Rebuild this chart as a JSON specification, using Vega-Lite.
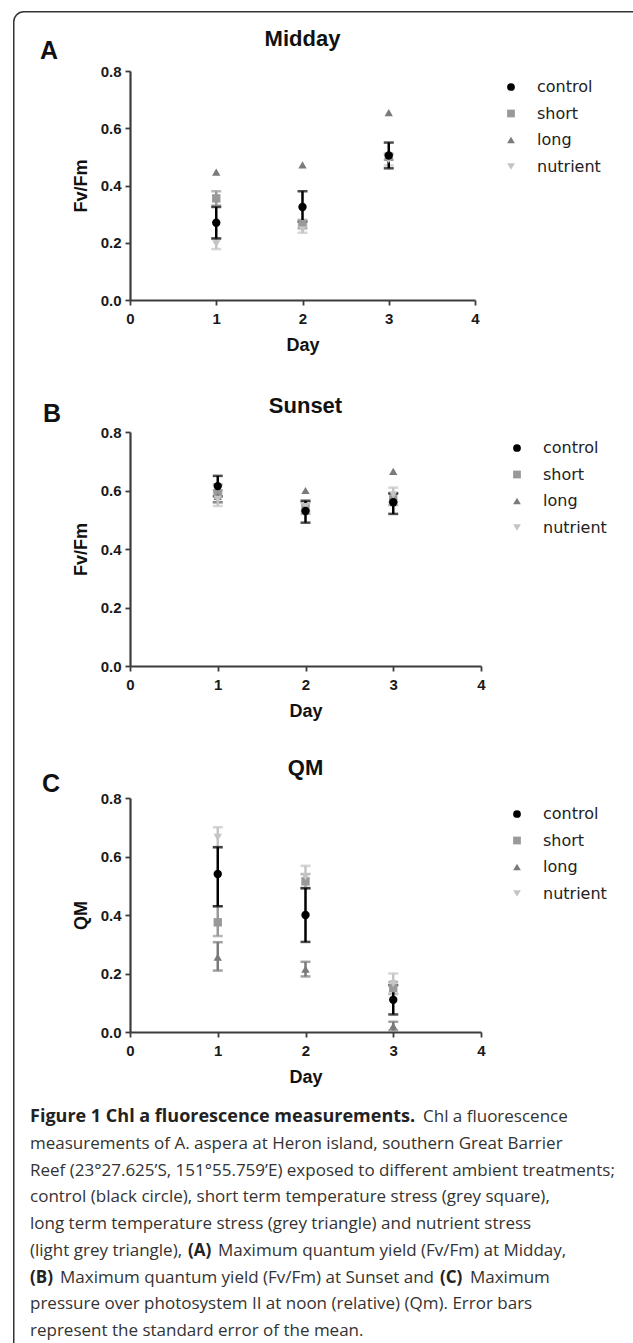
{
  "$schema": "https://vega.github.io/schema/vega-lite/v6.json",
  "padding": {"left": 13, "top": 10, "right": -18, "bottom": -18},
  "background": "white",
  "bounds": "flush",
  "spacing": 132,
  "resolve": {"scale": {"color": "independent", "shape": "independent"}},
  "config": {
    "view": {"stroke": null},
    "font": "Liberation Sans",
    "axis": {"grid": false, "domainColor": "#3c3c3c", "domainWidth": 2.2, "tickColor": "#3c3c3c", "tickWidth": 1.8, "tickSize": 5, "labelFont": "Liberation Sans", "labelFontWeight": "bold", "labelFontSize": 15, "labelColor": "#1a1a1a", "labelPadding": 4, "titleFont": "Liberation Sans", "titleFontWeight": "bold", "titleFontSize": 18, "titleColor": "#111111", "labelFlush": false, "labelOverlap": false},
    "axisX": {"labelPadding": 6, "titlePadding": 10},
    "axisY": {"titlePadding": 10},
    "legend": {"orient": "right", "offset": 20, "padding": 8, "rowPadding": 10.5, "labelOffset": 18, "symbolSize": 60, "labelFont": "DejaVu Sans", "labelFontSize": 16, "labelColor": "#222222"}
  },
  "datasets": {
    "midday": [
      {"day": 1, "trt": "short", "mean": 0.355, "lo": 0.33, "hi": 0.38},
      {"day": 1, "trt": "long", "mean": 0.447, "lo": null, "hi": null},
      {"day": 1, "trt": "nutrient", "mean": 0.196, "lo": 0.178, "hi": 0.215},
      {"day": 1, "trt": "control", "mean": 0.27, "lo": 0.215, "hi": 0.325},
      {"day": 2, "trt": "short", "mean": 0.265, "lo": 0.25, "hi": 0.28},
      {"day": 2, "trt": "long", "mean": 0.472, "lo": null, "hi": null},
      {"day": 2, "trt": "nutrient", "mean": 0.245, "lo": 0.235, "hi": 0.26},
      {"day": 2, "trt": "control", "mean": 0.325, "lo": 0.273, "hi": 0.38},
      {"day": 3, "trt": "short", "mean": 0.5, "lo": 0.49, "hi": 0.51},
      {"day": 3, "trt": "long", "mean": 0.655, "lo": null, "hi": null},
      {"day": 3, "trt": "nutrient", "mean": 0.49, "lo": 0.47, "hi": 0.51},
      {"day": 3, "trt": "control", "mean": 0.505, "lo": 0.46, "hi": 0.55}
    ],
    "sunset": [
      {"day": 1, "trt": "short", "mean": 0.59, "lo": 0.56, "hi": 0.62},
      {"day": 1, "trt": "long", "mean": 0.58, "lo": 0.56, "hi": 0.6},
      {"day": 1, "trt": "nutrient", "mean": 0.57, "lo": 0.547, "hi": 0.59},
      {"day": 1, "trt": "control", "mean": 0.615, "lo": 0.58, "hi": 0.65},
      {"day": 2, "trt": "short", "mean": 0.54, "lo": 0.52, "hi": 0.56},
      {"day": 2, "trt": "long", "mean": 0.6, "lo": null, "hi": null},
      {"day": 2, "trt": "nutrient", "mean": 0.545, "lo": 0.53, "hi": 0.56},
      {"day": 2, "trt": "control", "mean": 0.53, "lo": 0.49, "hi": 0.565},
      {"day": 3, "trt": "short", "mean": 0.57, "lo": 0.55, "hi": 0.59},
      {"day": 3, "trt": "long", "mean": 0.665, "lo": null, "hi": null},
      {"day": 3, "trt": "nutrient", "mean": 0.585, "lo": 0.56, "hi": 0.61},
      {"day": 3, "trt": "control", "mean": 0.56, "lo": 0.52, "hi": 0.59}
    ],
    "qm": [
      {"day": 1, "trt": "short", "mean": 0.375, "lo": 0.328, "hi": 0.43},
      {"day": 1, "trt": "long", "mean": 0.256, "lo": 0.21, "hi": 0.307},
      {"day": 1, "trt": "nutrient", "mean": 0.665, "lo": 0.63, "hi": 0.7},
      {"day": 1, "trt": "control", "mean": 0.54, "lo": 0.43, "hi": 0.632},
      {"day": 2, "trt": "short", "mean": 0.515, "lo": 0.49, "hi": 0.54},
      {"day": 2, "trt": "long", "mean": 0.215, "lo": 0.19, "hi": 0.24},
      {"day": 2, "trt": "nutrient", "mean": 0.53, "lo": 0.49, "hi": 0.568},
      {"day": 2, "trt": "control", "mean": 0.4, "lo": 0.308, "hi": 0.492},
      {"day": 3, "trt": "short", "mean": 0.15, "lo": 0.13, "hi": 0.17},
      {"day": 3, "trt": "long", "mean": 0.02, "lo": 0.005, "hi": 0.035},
      {"day": 3, "trt": "nutrient", "mean": 0.165, "lo": 0.13, "hi": 0.2},
      {"day": 3, "trt": "control", "mean": 0.11, "lo": 0.06, "hi": 0.16}
    ],
    "caption": [
      {"line": 1, "seg": "b1", "t": "Figure 1 Chl a fluorescence measurements."},
      {"line": 1, "seg": "r1", "t": "Chl a fluorescence"},
      {"line": 2, "seg": "r0", "t": "measurements of A. aspera at Heron island, southern Great Barrier"},
      {"line": 3, "seg": "r0", "t": "Reef (23°27.625’S, 151°55.759’E) exposed to different ambient treatments;"},
      {"line": 4, "seg": "r0", "t": "control (black circle), short term temperature stress (grey square),"},
      {"line": 5, "seg": "r0", "t": "long term temperature stress (grey triangle) and nutrient stress"},
      {"line": 6, "seg": "r0", "t": "(light grey triangle),"},
      {"line": 6, "seg": "bA", "t": "(A)"},
      {"line": 6, "seg": "rA", "t": "Maximum quantum yield (Fv/Fm) at Midday,"},
      {"line": 7, "seg": "b0", "t": "(B)"},
      {"line": 7, "seg": "rB", "t": "Maximum quantum yield (Fv/Fm) at Sunset and"},
      {"line": 7, "seg": "bC", "t": "(C)"},
      {"line": 7, "seg": "rC", "t": "Maximum"},
      {"line": 8, "seg": "r0", "t": "pressure over photosystem II at noon (relative) (Qm). Error bars"},
      {"line": 9, "seg": "r0", "t": "represent the standard error of the mean."}
    ]
  },
  "vconcat": [
    {
      "width": 345, "height": 229,
      "data": {"name": "midday"},
      "layer": [
        {"data": {"values": [{}]},
         "mark": {"type": "rect", "fill": "transparent", "stroke": "#333333", "strokeWidth": 1.5, "cornerRadius": 10},
         "encoding": {"x": {"datum": -1.3478, "type": "quantitative"}, "x2": {"datum": 6.029}, "y": {"datum": 1.007, "type": "quantitative"}, "y2": {"datum": -3.7066}}},
        {"transform": [{"filter": "datum.trt === 'short'"}], "layer": [
          {"mark": {"type": "rule", "color": "#999999", "strokeWidth": 2.5}, "encoding": {"x": {"field": "day", "type": "quantitative", "scale": {"domain": [0, 4], "nice": false, "zero": false}, "axis": {"values": [0, 1, 2, 3, 4], "format": "d", "title": "Day"}}, "y": {"field": "lo", "type": "quantitative", "scale": {"domain": [0, 0.8], "nice": false}, "axis": {"values": [0, 0.2, 0.4, 0.6, 0.8], "format": ".1f", "title": "Fv/Fm"}}, "y2": {"field": "hi"}}},
          {"mark": {"type": "tick", "orient": "horizontal", "color": "#999999", "thickness": 2.5, "size": 10}, "encoding": {"x": {"field": "day", "type": "quantitative"}, "y": {"field": "lo", "type": "quantitative"}}},
          {"mark": {"type": "tick", "orient": "horizontal", "color": "#999999", "thickness": 2.5, "size": 10}, "encoding": {"x": {"field": "day", "type": "quantitative"}, "y": {"field": "hi", "type": "quantitative"}}}
        ]},
        {"transform": [{"filter": "datum.trt === 'long'"}], "layer": [
          {"mark": {"type": "rule", "color": "#7a7a7a", "strokeWidth": 2.5}, "encoding": {"x": {"field": "day", "type": "quantitative"}, "y": {"field": "lo", "type": "quantitative"}, "y2": {"field": "hi"}}},
          {"mark": {"type": "tick", "orient": "horizontal", "color": "#7a7a7a", "thickness": 2.5, "size": 10}, "encoding": {"x": {"field": "day", "type": "quantitative"}, "y": {"field": "lo", "type": "quantitative"}}},
          {"mark": {"type": "tick", "orient": "horizontal", "color": "#7a7a7a", "thickness": 2.5, "size": 10}, "encoding": {"x": {"field": "day", "type": "quantitative"}, "y": {"field": "hi", "type": "quantitative"}}}
        ]},
        {"transform": [{"filter": "datum.trt === 'nutrient'"}], "layer": [
          {"mark": {"type": "rule", "color": "#c4c4c4", "strokeWidth": 2.5}, "encoding": {"x": {"field": "day", "type": "quantitative"}, "y": {"field": "lo", "type": "quantitative"}, "y2": {"field": "hi"}}},
          {"mark": {"type": "tick", "orient": "horizontal", "color": "#c4c4c4", "thickness": 2.5, "size": 10}, "encoding": {"x": {"field": "day", "type": "quantitative"}, "y": {"field": "lo", "type": "quantitative"}}},
          {"mark": {"type": "tick", "orient": "horizontal", "color": "#c4c4c4", "thickness": 2.5, "size": 10}, "encoding": {"x": {"field": "day", "type": "quantitative"}, "y": {"field": "hi", "type": "quantitative"}}}
        ]},
        {"transform": [{"filter": "datum.trt === 'control'"}], "layer": [
          {"mark": {"type": "rule", "color": "#000000", "strokeWidth": 2.5}, "encoding": {"x": {"field": "day", "type": "quantitative"}, "y": {"field": "lo", "type": "quantitative"}, "y2": {"field": "hi"}}},
          {"mark": {"type": "tick", "orient": "horizontal", "color": "#000000", "thickness": 2.5, "size": 10}, "encoding": {"x": {"field": "day", "type": "quantitative"}, "y": {"field": "lo", "type": "quantitative"}}},
          {"mark": {"type": "tick", "orient": "horizontal", "color": "#000000", "thickness": 2.5, "size": 10}, "encoding": {"x": {"field": "day", "type": "quantitative"}, "y": {"field": "hi", "type": "quantitative"}}}
        ]},
        {"mark": {"type": "point", "filled": true, "size": 70, "opacity": 1},
         "encoding": {"x": {"field": "day", "type": "quantitative"}, "y": {"field": "mean", "type": "quantitative"},
           "color": {"field": "trt", "type": "nominal", "scale": {"domain": ["control", "short", "long", "nutrient"], "range": ["#000000", "#999999", "#7a7a7a", "#c4c4c4"]}, "legend": {"title": null}},
           "shape": {"field": "trt", "type": "nominal", "scale": {"domain": ["control", "short", "long", "nutrient"], "range": ["circle", "square", "triangle-up", "triangle-down"]}, "legend": {"title": null}}}},
        {"data": {"values": [{}]},
         "mark": {"type": "text", "text": "Midday", "font": "Liberation Sans", "fontWeight": "bold", "fontSize": 22, "baseline": "middle", "align": "center", "color": "#111111"},
         "encoding": {"x": {"datum": 2, "type": "quantitative"}, "y": {"datum": 0.912, "type": "quantitative"}}},
        {"data": {"values": [{}]},
         "mark": {"type": "text", "text": "A", "font": "Liberation Sans", "fontWeight": "bold", "fontSize": 25, "baseline": "middle", "align": "center", "color": "#111111"},
         "encoding": {"x": {"datum": -0.939, "type": "quantitative"}, "y": {"datum": 0.87, "type": "quantitative"}}}
      ]
    },
    {
      "width": 351, "height": 234,
      "data": {"name": "sunset"},
      "layer": [
        {"transform": [{"filter": "datum.trt === 'short'"}], "layer": [
          {"mark": {"type": "rule", "color": "#999999", "strokeWidth": 2.5}, "encoding": {"x": {"field": "day", "type": "quantitative", "scale": {"domain": [0, 4], "nice": false, "zero": false}, "axis": {"values": [0, 1, 2, 3, 4], "format": "d", "title": "Day"}}, "y": {"field": "lo", "type": "quantitative", "scale": {"domain": [0, 0.8], "nice": false}, "axis": {"values": [0, 0.2, 0.4, 0.6, 0.8], "format": ".1f", "title": "Fv/Fm"}}, "y2": {"field": "hi"}}},
          {"mark": {"type": "tick", "orient": "horizontal", "color": "#999999", "thickness": 2.5, "size": 10}, "encoding": {"x": {"field": "day", "type": "quantitative"}, "y": {"field": "lo", "type": "quantitative"}}},
          {"mark": {"type": "tick", "orient": "horizontal", "color": "#999999", "thickness": 2.5, "size": 10}, "encoding": {"x": {"field": "day", "type": "quantitative"}, "y": {"field": "hi", "type": "quantitative"}}}
        ]},
        {"transform": [{"filter": "datum.trt === 'long'"}], "layer": [
          {"mark": {"type": "rule", "color": "#7a7a7a", "strokeWidth": 2.5}, "encoding": {"x": {"field": "day", "type": "quantitative"}, "y": {"field": "lo", "type": "quantitative"}, "y2": {"field": "hi"}}},
          {"mark": {"type": "tick", "orient": "horizontal", "color": "#7a7a7a", "thickness": 2.5, "size": 10}, "encoding": {"x": {"field": "day", "type": "quantitative"}, "y": {"field": "lo", "type": "quantitative"}}},
          {"mark": {"type": "tick", "orient": "horizontal", "color": "#7a7a7a", "thickness": 2.5, "size": 10}, "encoding": {"x": {"field": "day", "type": "quantitative"}, "y": {"field": "hi", "type": "quantitative"}}}
        ]},
        {"transform": [{"filter": "datum.trt === 'nutrient'"}], "layer": [
          {"mark": {"type": "rule", "color": "#c4c4c4", "strokeWidth": 2.5}, "encoding": {"x": {"field": "day", "type": "quantitative"}, "y": {"field": "lo", "type": "quantitative"}, "y2": {"field": "hi"}}},
          {"mark": {"type": "tick", "orient": "horizontal", "color": "#c4c4c4", "thickness": 2.5, "size": 10}, "encoding": {"x": {"field": "day", "type": "quantitative"}, "y": {"field": "lo", "type": "quantitative"}}},
          {"mark": {"type": "tick", "orient": "horizontal", "color": "#c4c4c4", "thickness": 2.5, "size": 10}, "encoding": {"x": {"field": "day", "type": "quantitative"}, "y": {"field": "hi", "type": "quantitative"}}}
        ]},
        {"transform": [{"filter": "datum.trt === 'control'"}], "layer": [
          {"mark": {"type": "rule", "color": "#000000", "strokeWidth": 2.5}, "encoding": {"x": {"field": "day", "type": "quantitative"}, "y": {"field": "lo", "type": "quantitative"}, "y2": {"field": "hi"}}},
          {"mark": {"type": "tick", "orient": "horizontal", "color": "#000000", "thickness": 2.5, "size": 10}, "encoding": {"x": {"field": "day", "type": "quantitative"}, "y": {"field": "lo", "type": "quantitative"}}},
          {"mark": {"type": "tick", "orient": "horizontal", "color": "#000000", "thickness": 2.5, "size": 10}, "encoding": {"x": {"field": "day", "type": "quantitative"}, "y": {"field": "hi", "type": "quantitative"}}}
        ]},
        {"mark": {"type": "point", "filled": true, "size": 70, "opacity": 1},
         "encoding": {"x": {"field": "day", "type": "quantitative"}, "y": {"field": "mean", "type": "quantitative"},
           "color": {"field": "trt", "type": "nominal", "scale": {"domain": ["control", "short", "long", "nutrient"], "range": ["#000000", "#999999", "#7a7a7a", "#c4c4c4"]}, "legend": {"title": null}},
           "shape": {"field": "trt", "type": "nominal", "scale": {"domain": ["control", "short", "long", "nutrient"], "range": ["circle", "square", "triangle-up", "triangle-down"]}, "legend": {"title": null}}}},
        {"data": {"values": [{}]},
         "mark": {"type": "text", "text": "Sunset", "font": "Liberation Sans", "fontWeight": "bold", "fontSize": 22, "baseline": "middle", "align": "center", "color": "#111111"},
         "encoding": {"x": {"datum": 2, "type": "quantitative"}, "y": {"datum": 0.889, "type": "quantitative"}}},
        {"data": {"values": [{}]},
         "mark": {"type": "text", "text": "B", "font": "Liberation Sans", "fontWeight": "bold", "fontSize": 25, "baseline": "middle", "align": "center", "color": "#111111"},
         "encoding": {"x": {"datum": -0.889, "type": "quantitative"}, "y": {"datum": 0.8615, "type": "quantitative"}}}
      ]
    },
    {
      "width": 351, "height": 234,
      "data": {"name": "qm"},
      "layer": [
        {"transform": [{"filter": "datum.trt === 'short'"}], "layer": [
          {"mark": {"type": "rule", "color": "#999999", "strokeWidth": 2.5}, "encoding": {"x": {"field": "day", "type": "quantitative", "scale": {"domain": [0, 4], "nice": false, "zero": false}, "axis": {"values": [0, 1, 2, 3, 4], "format": "d", "title": "Day"}}, "y": {"field": "lo", "type": "quantitative", "scale": {"domain": [0, 0.8], "nice": false}, "axis": {"values": [0, 0.2, 0.4, 0.6, 0.8], "format": ".1f", "title": "QM"}}, "y2": {"field": "hi"}}},
          {"mark": {"type": "tick", "orient": "horizontal", "color": "#999999", "thickness": 2.5, "size": 10}, "encoding": {"x": {"field": "day", "type": "quantitative"}, "y": {"field": "lo", "type": "quantitative"}}},
          {"mark": {"type": "tick", "orient": "horizontal", "color": "#999999", "thickness": 2.5, "size": 10}, "encoding": {"x": {"field": "day", "type": "quantitative"}, "y": {"field": "hi", "type": "quantitative"}}}
        ]},
        {"transform": [{"filter": "datum.trt === 'long'"}], "layer": [
          {"mark": {"type": "rule", "color": "#7a7a7a", "strokeWidth": 2.5}, "encoding": {"x": {"field": "day", "type": "quantitative"}, "y": {"field": "lo", "type": "quantitative"}, "y2": {"field": "hi"}}},
          {"mark": {"type": "tick", "orient": "horizontal", "color": "#7a7a7a", "thickness": 2.5, "size": 10}, "encoding": {"x": {"field": "day", "type": "quantitative"}, "y": {"field": "lo", "type": "quantitative"}}},
          {"mark": {"type": "tick", "orient": "horizontal", "color": "#7a7a7a", "thickness": 2.5, "size": 10}, "encoding": {"x": {"field": "day", "type": "quantitative"}, "y": {"field": "hi", "type": "quantitative"}}}
        ]},
        {"transform": [{"filter": "datum.trt === 'nutrient'"}], "layer": [
          {"mark": {"type": "rule", "color": "#c4c4c4", "strokeWidth": 2.5}, "encoding": {"x": {"field": "day", "type": "quantitative"}, "y": {"field": "lo", "type": "quantitative"}, "y2": {"field": "hi"}}},
          {"mark": {"type": "tick", "orient": "horizontal", "color": "#c4c4c4", "thickness": 2.5, "size": 10}, "encoding": {"x": {"field": "day", "type": "quantitative"}, "y": {"field": "lo", "type": "quantitative"}}},
          {"mark": {"type": "tick", "orient": "horizontal", "color": "#c4c4c4", "thickness": 2.5, "size": 10}, "encoding": {"x": {"field": "day", "type": "quantitative"}, "y": {"field": "hi", "type": "quantitative"}}}
        ]},
        {"transform": [{"filter": "datum.trt === 'control'"}], "layer": [
          {"mark": {"type": "rule", "color": "#000000", "strokeWidth": 2.5}, "encoding": {"x": {"field": "day", "type": "quantitative"}, "y": {"field": "lo", "type": "quantitative"}, "y2": {"field": "hi"}}},
          {"mark": {"type": "tick", "orient": "horizontal", "color": "#000000", "thickness": 2.5, "size": 10}, "encoding": {"x": {"field": "day", "type": "quantitative"}, "y": {"field": "lo", "type": "quantitative"}}},
          {"mark": {"type": "tick", "orient": "horizontal", "color": "#000000", "thickness": 2.5, "size": 10}, "encoding": {"x": {"field": "day", "type": "quantitative"}, "y": {"field": "hi", "type": "quantitative"}}}
        ]},
        {"mark": {"type": "point", "filled": true, "size": 70, "opacity": 1},
         "encoding": {"x": {"field": "day", "type": "quantitative"}, "y": {"field": "mean", "type": "quantitative"},
           "color": {"field": "trt", "type": "nominal", "scale": {"domain": ["control", "short", "long", "nutrient"], "range": ["#000000", "#999999", "#7a7a7a", "#c4c4c4"]}, "legend": {"title": null}},
           "shape": {"field": "trt", "type": "nominal", "scale": {"domain": ["control", "short", "long", "nutrient"], "range": ["circle", "square", "triangle-up", "triangle-down"]}, "legend": {"title": null}}}},
        {"data": {"values": [{}]},
         "mark": {"type": "text", "text": "QM", "font": "Liberation Sans", "fontWeight": "bold", "fontSize": 22, "baseline": "middle", "align": "center", "color": "#111111"},
         "encoding": {"x": {"datum": 2, "type": "quantitative"}, "y": {"datum": 0.9026, "type": "quantitative"}}},
        {"data": {"values": [{}]},
         "mark": {"type": "text", "text": "C", "font": "Liberation Sans", "fontWeight": "bold", "fontSize": 25, "baseline": "middle", "align": "center", "color": "#111111"},
         "encoding": {"x": {"datum": -0.9, "type": "quantitative"}, "y": {"datum": 0.848, "type": "quantitative"}}}
      ]
    },
    {
      "width": 480, "height": 167,
      "data": {"name": "caption"},
      "layer": [
        {"transform": [{"filter": "datum.seg === 'b1'"}], "mark": {"type": "text", "font": "Open Sans", "fontWeight": "bold", "fontSize": 18, "align": "left", "baseline": "middle", "color": "#222222"},
         "encoding": {"x": {"datum": -0.2083, "type": "quantitative", "scale": {"domain": [0, 1], "nice": false, "zero": false}, "axis": null}, "y": {"field": "line", "type": "quantitative", "scale": {"domain": [2.757, 9], "reverse": true, "nice": false, "zero": false}, "axis": null}, "text": {"field": "t"}}},
        {"transform": [{"filter": "datum.seg === 'b0'"}], "mark": {"type": "text", "font": "Open Sans", "fontWeight": "bold", "fontSize": 17, "align": "left", "baseline": "middle", "color": "#222222"},
         "encoding": {"x": {"datum": -0.2083, "type": "quantitative"}, "y": {"field": "line", "type": "quantitative"}, "text": {"field": "t"}}},
        {"transform": [{"filter": "datum.seg === 'r0'"}], "mark": {"type": "text", "font": "Open Sans", "fontSize": 17, "align": "left", "baseline": "middle", "color": "#333333"},
         "encoding": {"x": {"datum": -0.2083, "type": "quantitative"}, "y": {"field": "line", "type": "quantitative"}, "text": {"field": "t"}}},
        {"transform": [{"filter": "datum.seg === 'r1'"}], "mark": {"type": "text", "font": "Open Sans", "fontSize": 17, "align": "left", "baseline": "middle", "color": "#333333"},
         "encoding": {"x": {"datum": 0.6104, "type": "quantitative"}, "y": {"field": "line", "type": "quantitative"}, "text": {"field": "t"}}},
        {"transform": [{"filter": "datum.seg === 'bA'"}], "mark": {"type": "text", "font": "Open Sans", "fontWeight": "bold", "fontSize": 17, "align": "left", "baseline": "middle", "color": "#222222"},
         "encoding": {"x": {"datum": 0.1208, "type": "quantitative"}, "y": {"field": "line", "type": "quantitative"}, "text": {"field": "t"}}},
        {"transform": [{"filter": "datum.seg === 'rA'"}], "mark": {"type": "text", "font": "Open Sans", "fontSize": 17, "align": "left", "baseline": "middle", "color": "#333333"},
         "encoding": {"x": {"datum": 0.1833, "type": "quantitative"}, "y": {"field": "line", "type": "quantitative"}, "text": {"field": "t"}}},
        {"transform": [{"filter": "datum.seg === 'rB'"}], "mark": {"type": "text", "font": "Open Sans", "fontSize": 17, "align": "left", "baseline": "middle", "color": "#333333"},
         "encoding": {"x": {"datum": -0.1458, "type": "quantitative"}, "y": {"field": "line", "type": "quantitative"}, "text": {"field": "t"}}},
        {"transform": [{"filter": "datum.seg === 'bC'"}], "mark": {"type": "text", "font": "Open Sans", "fontWeight": "bold", "fontSize": 17, "align": "left", "baseline": "middle", "color": "#222222"},
         "encoding": {"x": {"datum": 0.6458, "type": "quantitative"}, "y": {"field": "line", "type": "quantitative"}, "text": {"field": "t"}}},
        {"transform": [{"filter": "datum.seg === 'rC'"}], "mark": {"type": "text", "font": "Open Sans", "fontSize": 17, "align": "left", "baseline": "middle", "color": "#333333"},
         "encoding": {"x": {"datum": 0.7083, "type": "quantitative"}, "y": {"field": "line", "type": "quantitative"}, "text": {"field": "t"}}}
      ]
    }
  ]
}
